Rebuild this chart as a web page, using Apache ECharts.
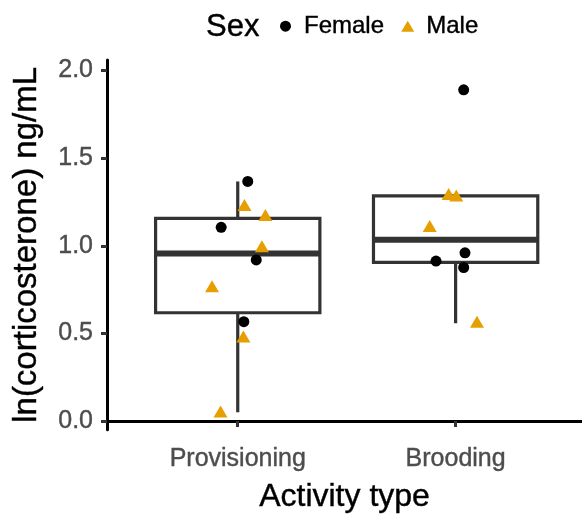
<!DOCTYPE html>
<html>
<head>
<meta charset="utf-8">
<script src="https://cdn.jsdelivr.net/npm/echarts@6/dist/echarts.min.js"></script>
<style>
  html, body { margin: 0; padding: 0; background: #fff; }
  #chart { width: 582px; height: 518px; }
</style>
</head>
<body>
<div id="chart"></div>
<script>
// categories on the x axis (1 = Provisioning, 2 = Brooding)
const categories = ['Provisioning', 'Brooding'];
const yTicks = [0, 0.5, 1.0, 1.5, 2.0];

// box stats per category
const boxLow  = [0.05, 0.558];
const boxQ1   = [0.618, 0.905];
const boxMed  = [0.956, 1.034];
const boxQ3   = [1.156, 1.285];
const boxHigh = [1.367, 1.296];

// jittered points (x is category position + jitter)
const femaleX = [1.046, 0.924, 1.085, 1.028, 2.037, 2.043, 1.910, 2.037];
const femaleY = [1.367, 1.105, 0.919, 0.567, 1.890, 0.960, 0.913, 0.876];
const maleX = [1.031, 1.127, 1.111, 0.882, 1.026, 0.921, 1.968, 2.003, 1.881, 2.098];
const maleY = [1.232, 1.175, 0.997, 0.769, 0.483, 0.054, 1.296, 1.287, 1.113, 0.567];

const font = 'Liberation Sans, Arial, sans-serif';
const boxHalf = 0.377;

const chart = echarts.init(document.getElementById('chart'));

const boxData = categories.map((c, i) => [i + 1, boxLow[i], boxQ1[i], boxMed[i], boxQ3[i], boxHigh[i]]);

// slightly heavier text, like the ggplot export
const txt = (size, color) => ({
    fontFamily: font, fontSize: size, color: color,
    textBorderColor: color, textBorderWidth: 0.4
});

function renderBox(params, api) {
    const x = api.value(0);
    const lo = api.coord([x, api.value(1)]);
    const q1 = api.coord([x, api.value(2)]);
    const med = api.coord([x, api.value(3)]);
    const q3 = api.coord([x, api.value(4)]);
    const hi = api.coord([x, api.value(5)]);
    const left = api.coord([x - boxHalf, 0])[0];
    const right = api.coord([x + boxHalf, 0])[0];
    const stroke = '#333333';
    return {
        type: 'group',
        children: [
            { type: 'line', shape: { x1: lo[0], y1: lo[1], x2: q1[0], y2: q1[1] }, style: { stroke: stroke, lineWidth: 3.2 } },
            { type: 'line', shape: { x1: q3[0], y1: q3[1], x2: hi[0], y2: hi[1] }, style: { stroke: stroke, lineWidth: 3.2 } },
            { type: 'rect', shape: { x: left, y: q3[1], width: right - left, height: q1[1] - q3[1] }, style: { fill: '#fff', stroke: stroke, lineWidth: 3.2 } },
            { type: 'line', shape: { x1: left, y1: med[1], x2: right, y2: med[1] }, style: { stroke: stroke, lineWidth: 6 } }
        ]
    };
}

const option = {
    animation: false,
    backgroundColor: '#fff',
    title: {
        text: 'Sex',
        left: 206,
        top: 12,
        padding: 0,
        textStyle: Object.assign(txt(31, '#000'), { fontWeight: 'normal' })
    },
    legend: {
        left: 280,
        top: 14,
        padding: 0,
        itemWidth: 13,
        itemHeight: 11,
        itemGap: 17,
        data: [
            { name: 'Female', icon: 'circle' },
            { name: 'Male', icon: 'triangle' }
        ],
        textStyle: Object.assign(txt(24, '#000'), { padding: [0, 0, 0, 7] })
    },
    grid: { left: 107, right: 0, top: 60, bottom: 81, containLabel: false },
    xAxis: {
        type: 'value',
        min: 0.4,
        max: 2.58,
        name: 'Activity type',
        nameLocation: 'middle',
        nameGap: 51,
        nameTextStyle: txt(32, '#000'),
        axisLine: { show: true, lineStyle: { color: '#000', width: 3 } },
        axisTick: { show: true, customValues: [1, 2], length: 6, lineStyle: { color: '#333', width: 3 } },
        axisLabel: Object.assign(txt(25, '#4D4D4D'), {
            customValues: [1, 2],
            formatter: v => categories[Math.round(v) - 1] || '',
            margin: 17
        }),
        splitLine: { show: false }
    },
    yAxis: {
        type: 'value',
        min: -0.05,
        max: 2.06,
        name: 'ln(corticosterone) ng/mL',
        nameLocation: 'middle',
        nameGap: 64,
        nameTextStyle: txt(33, '#000'),
        axisLine: { show: true, lineStyle: { color: '#000', width: 3 } },
        axisTick: { show: true, customValues: yTicks, length: 6, lineStyle: { color: '#333', width: 3 } },
        axisLabel: Object.assign(txt(25, '#4D4D4D'), {
            customValues: yTicks,
            formatter: v => v.toFixed(1),
            margin: 14
        }),
        splitLine: { show: false }
    },
    series: [
        {
            name: 'box',
            type: 'custom',
            renderItem: renderBox,
            encode: { x: 0, y: [1, 2, 3, 4, 5] },
            data: boxData,
            z: 1
        },
        {
            name: 'Female',
            type: 'scatter',
            symbol: 'circle',
            symbolSize: 11,
            itemStyle: { color: '#000', opacity: 1 },
            data: femaleX.map((x, i) => [x, femaleY[i]]),
            z: 3
        },
        {
            name: 'Male',
            type: 'scatter',
            symbol: 'triangle',
            symbolSize: [14, 12],
            itemStyle: { color: '#E69F00', opacity: 1 },
            data: maleX.map((x, i) => [x, maleY[i]]),
            z: 3
        }
    ]
};

chart.setOption(option);
</script>
</body>
</html>
